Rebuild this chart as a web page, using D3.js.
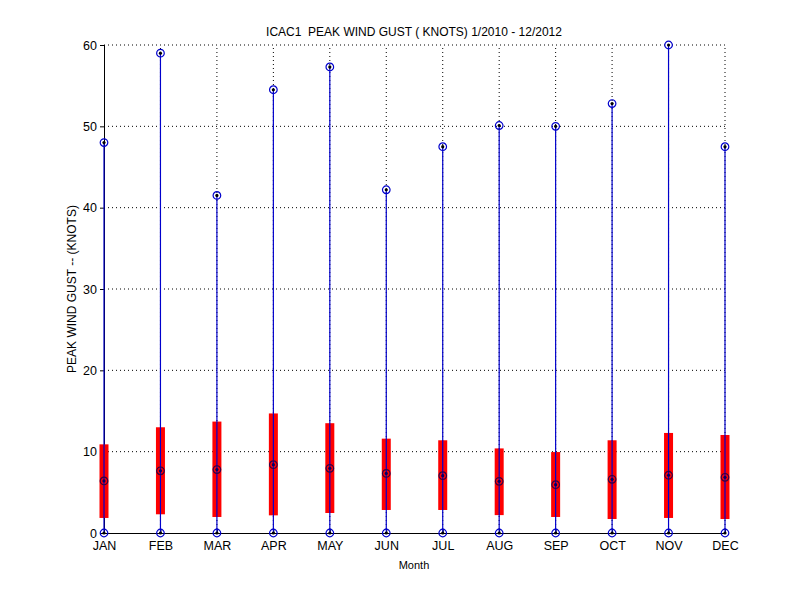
<!DOCTYPE html>
<html>
<head>
<meta charset="utf-8">
<script src="https://cdn.jsdelivr.net/npm/d3@7"></script>
<style>
  body { margin: 0; background: #fff; }
  text { font-family: "Liberation Sans", Arial, sans-serif; }
</style>
</head>
<body>
<div id="chart"></div>
<script>
// monthly peak gust stats
var months = ["JAN", "FEB", "MAR", "APR", "MAY", "JUN", "JUL", "AUG", "SEP", "OCT", "NOV", "DEC"];
var gustMin = [0, 0, 0, 0, 0, 0, 0, 0, 0, 0, 0, 0];
var gustQ1 = [1.85, 2.3, 1.97, 2.17, 2.46, 2.83, 2.83, 2.2, 1.97, 1.72, 1.85, 1.72];
var gustMedian = [6.4, 7.65, 7.8, 8.4, 7.95, 7.33, 7.05, 6.35, 5.94, 6.6, 7.1, 6.85];
var gustQ3 = [10.9, 13.0, 13.7, 14.7, 13.5, 11.6, 11.4, 10.4, 9.95, 11.4, 12.3, 12.05];
var gustMax = [48.0, 59.0, 41.5, 54.5, 57.3, 42.2, 47.5, 50.1, 50.0, 52.8, 60.0, 47.5];
var yTicks = [0, 10, 20, 30, 40, 50, 60];

var width = 800,
    height = 600;
var margin = { top: 45, right: 75, bottom: 67, left: 104 };

var svg = d3.select("#chart")
    .append("svg")
    .attr("width", width)
    .attr("height", height);

var x = d3.scaleLinear()
    .domain([0, months.length - 1])
    .range([margin.left, width - margin.right]);

var y = d3.scaleLinear()
    .domain([0, 60])
    .range([height - margin.bottom, margin.top]);

// dotted grid
var grid = svg.append("g");
grid.selectAll(".hgrid")
    .data(yTicks.slice(1))
    .enter().append("line")
    .attr("x1", x(0)).attr("x2", x(months.length - 1))
    .attr("y1", function (d) { return y(d); })
    .attr("y2", function (d) { return y(d); })
    .attr("stroke", "#000")
    .attr("stroke-width", 1)
    .attr("stroke-dasharray", "1,3");
grid.selectAll(".vgrid")
    .data(months.map(function (m, i) { return i; }).slice(1))
    .enter().append("line")
    .attr("x1", function (d) { return x(d); })
    .attr("x2", function (d) { return x(d); })
    .attr("y1", y(0)).attr("y2", y(60))
    .attr("stroke", "#000")
    .attr("stroke-width", 1)
    .attr("stroke-dasharray", "1,3");

// axes
var yAxis = d3.axisLeft(y)
    .tickValues(yTicks)
    .tickSize(4)
    .tickPadding(3);
svg.append("g")
    .attr("transform", "translate(" + margin.left + ",0)")
    .call(yAxis)
    .call(function (g) {
        g.select(".domain").attr("stroke", "#000").attr("d", "M0.5," + y(0) + "V" + y(60));
        g.selectAll("text").attr("font-size", 12.5).attr("font-family", "Liberation Sans, Arial, sans-serif");
    });

var xAxis = d3.axisBottom(x)
    .tickValues(d3.range(months.length))
    .tickFormat(function (d) { return months[d]; })
    .tickSize(-4)
    .tickPadding(8);
svg.append("g")
    .attr("transform", "translate(0," + y(0) + ")")
    .call(xAxis)
    .call(function (g) {
        g.select(".domain").attr("stroke", "#000").attr("d", "M" + x(0) + ",0.5H" + x(months.length - 1));
        g.selectAll("text").attr("font-size", 12.5).attr("font-family", "Liberation Sans, Arial, sans-serif");
    });

// red interquartile bars
var boxW = 9;
svg.selectAll(".box")
    .data(months)
    .enter().append("rect")
    .attr("x", function (d, i) { return x(i) - boxW / 2; })
    .attr("y", function (d, i) { return y(gustQ3[i]); })
    .attr("width", boxW)
    .attr("height", function (d, i) { return y(gustQ1[i]) - y(gustQ3[i]); })
    .attr("fill", "#ff0000");

// blue min-max lines
svg.selectAll(".whisker")
    .data(months)
    .enter().append("line")
    .attr("x1", function (d, i) { return x(i); })
    .attr("x2", function (d, i) { return x(i); })
    .attr("y1", function (d, i) { return y(gustMin[i]); })
    .attr("y2", function (d, i) { return y(gustMax[i]); })
    .attr("stroke", "#0000cc")
    .attr("stroke-width", 1.2);

// markers: min, median, max
var markers = [];
months.forEach(function (m, i) {
    markers.push({ i: i, v: gustMin[i], mid: false });
    markers.push({ i: i, v: gustMedian[i], mid: true });
    markers.push({ i: i, v: gustMax[i], mid: false });
});
var mk = svg.selectAll(".marker")
    .data(markers)
    .enter().append("g")
    .attr("transform", function (d) { return "translate(" + x(d.i) + "," + y(d.v) + ")"; });
mk.append("circle")
    .attr("r", 3.8)
    .attr("fill", "none")
    .attr("stroke", function (d) { return d.mid ? "#330044" : "#0000cc"; })
    .attr("stroke-width", 1.2);
mk.append("circle")
    .attr("r", 1.6)
    .attr("fill", function (d) { return d.mid ? "#000066" : "#000"; });

// labels
svg.append("text")
    .attr("x", 414)
    .attr("y", 36)
    .attr("text-anchor", "middle")
    .attr("font-size", 12)
    .text("ICAC1  PEAK WIND GUST ( KNOTS) 1/2010 - 12/2012")
    .style("white-space", "pre");

svg.append("text")
    .attr("x", 414)
    .attr("y", 569)
    .attr("text-anchor", "middle")
    .attr("font-size", 11)
    .text("Month");

svg.append("text")
    .attr("transform", "translate(76," + y(30) + ") rotate(-90)")
    .attr("text-anchor", "middle")
    .attr("font-size", 12)
    .text("PEAK WIND GUST -- (KNOTS)");
</script>
</body>
</html>
